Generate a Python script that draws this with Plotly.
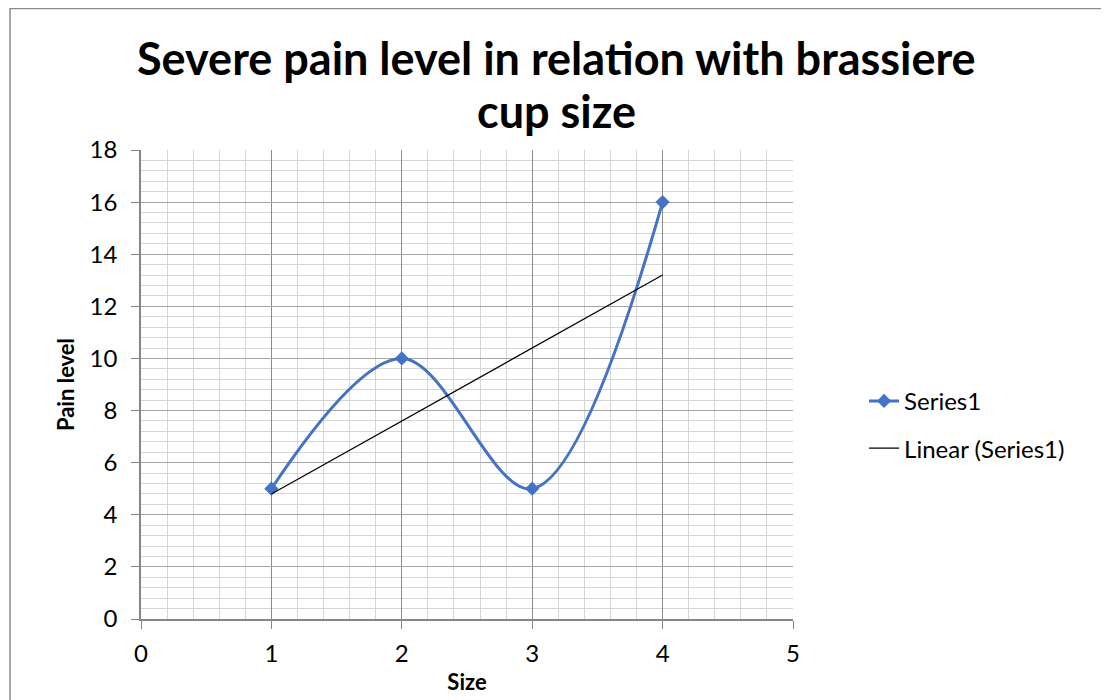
import plotly.graph_objects as go

sizes = [1, 2, 3, 4]
pain = [5, 10, 5, 16]
trend_x = [1, 4]
trend_y = [4.8, 13.2]
title_lines = ["Severe pain level in relation with brassiere", "cup size"]

font_family = "Lato"
blue = "#4472C4"

fig = go.Figure()
fig.add_trace(go.Scatter(
    x=sizes, y=pain, mode="lines+markers", name="Series1",
    line=dict(color=blue, width=3, shape="spline", smoothing=1),
    marker=dict(symbol="diamond", size=11, color=blue),
    legendgroup="a",
))
fig.add_trace(go.Scatter(
    x=trend_x, y=trend_y, mode="lines", name="Linear (Series1)",
    line=dict(color="black", width=1.2),
    legendgroup="b",
))

fig.update_layout(
    width=1109, height=700,
    margin=dict(l=133, r=324, t=142, b=89),
    paper_bgcolor="white", plot_bgcolor="white",
    font=dict(family=font_family, size=24, color="black"),
    showlegend=True,
    legend=dict(
        x=1.109, xanchor="left", y=0.414, yanchor="middle",
        font=dict(family=font_family, size=24, color="black"),
        tracegroupgap=13, bgcolor="rgba(0,0,0,0)",
    ),
    xaxis=dict(
        range=[0, 5], dtick=1, tick0=0,
        showgrid=True, gridcolor="#8c8c8c", gridwidth=1,
        minor=dict(dtick=0.2, showgrid=True, gridcolor="#d6d6d6", gridwidth=1),
        showline=True, linecolor="#868686", linewidth=1.5,
        ticks="outside", ticklen=8, tickcolor="#868686",
        ticklabelstandoff=4,
        zeroline=False,
        title=dict(text="<b>Size</b>", font=dict(size=22), standoff=9),
        tickfont=dict(size=24),
    ),
    yaxis=dict(
        range=[0, 18], dtick=2, tick0=0,
        showgrid=True, gridcolor="#a6a6a6", gridwidth=1,
        minor=dict(dtick=0.4, showgrid=True, gridcolor="#d6d6d6", gridwidth=1),
        showline=True, linecolor="#868686", linewidth=1.5,
        ticks="outside", ticklen=8, tickcolor="#868686",
        ticklabelstandoff=9,
        zeroline=False,
        title=dict(text="<b>Pain level</b>", font=dict(size=22), standoff=9),
        tickfont=dict(size=24),
    ),
)

for text, ypos in zip(title_lines, [1.197, 1.083]):
    fig.add_annotation(
        text="<b>" + text + "</b>", xref="paper", yref="paper",
        x=0.638, y=ypos, xanchor="center", yanchor="middle",
        showarrow=False, font=dict(family=font_family, size=45, color="black"),
    )

fig.add_shape(
    type="rect", xref="paper", yref="paper",
    x0=(2 - 133) / 652, x1=(1096 - 133) / 652,
    y0=(611 - 705) / 469, y1=(611 - 0.5) / 469,
    line=dict(color="#8c8c8c", width=1.5), fillcolor="rgba(0,0,0,0)",
    layer="below",
)

fig.write_html("out.html")
